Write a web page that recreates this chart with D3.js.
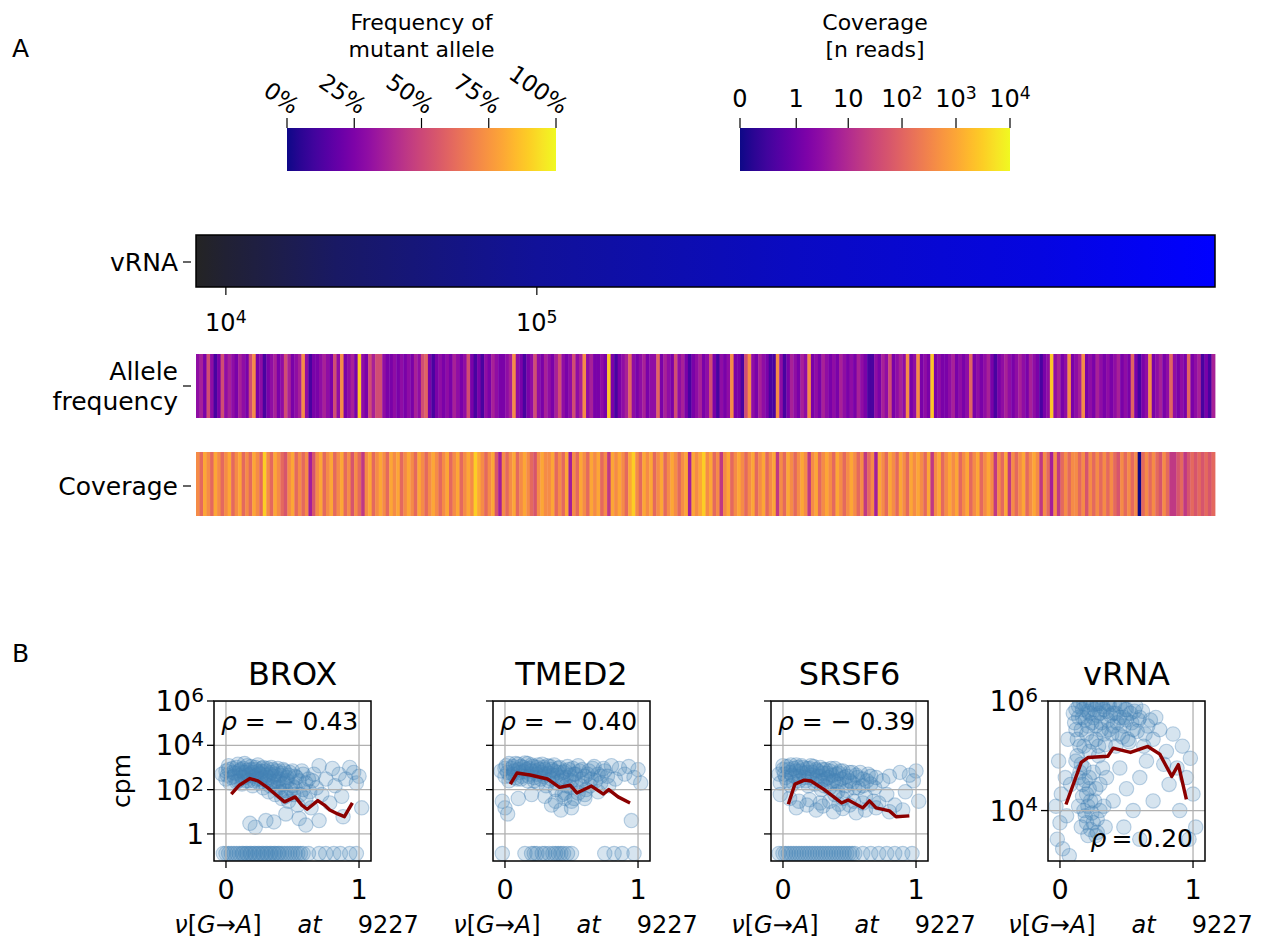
<!DOCTYPE html>
<html>
<head>
<meta charset="utf-8">
<script src="https://cdn.jsdelivr.net/npm/d3@7"></script>
<style>
  body { margin: 0; background: #fff; }
  svg { display: block; font-family: "DejaVu Sans", sans-serif; }
</style>
</head>
<body>
<svg id="fig" width="1261" height="945"></svg>
<script>
// ---------- data ----------
const freqTicks = [0, 0.25, 0.5, 0.75, 1];
const freqTickLabels = ["0%", "25%", "50%", "75%", "100%"];
const coverageTicks = [0, 1, 10, 100, 1000, 10000];
const coverageTickLabels = ["0", "1", "10", "10^2", "10^3", "10^4"];

const vrnaAnchorCell = [0, 8.5, 40, 97, 170, 240, 290];
const vrnaAnchorValue = [7000, 1e4, 3e4, 1e5, 2.5e5, 5e5, 1e6];
const vrnaTickCell = [8.5, 97];
const vrnaTickLabels = ["10^4", "10^5"];

// frequency of the mutant allele per cell (same order)
const alleleFreq = [
  0.30,0.37,0.24,0.52,0.30,0.12,0.24,0.52,0.30,0.37,
  0.30,0.24,0.37,0.30,0.24,0.52,0.72,0.24,0.30,0.12,
  0.24,0.30,0.37,0.24,0.30,0.52,0.37,0.24,0.30,0.37,
  0.72,0.30,0.12,0.24,0.24,0.30,0.37,0.30,0.24,0.52,
  0.30,0.72,0.24,0.30,0.37,0.24,0.88,0.30,0.24,0.52,
  0.37,0.52,0.52,0.30,0.24,0.24,0.30,0.24,0.30,0.24,
  0.30,0.24,0.37,0.30,0.52,0.60,0.24,0.12,0.24,0.30,
  0.24,0.30,0.24,0.37,0.30,0.24,0.30,0.52,0.24,0.12,
  0.24,0.12,0.30,0.24,0.37,0.30,0.24,0.24,0.30,0.37,
  0.72,0.30,0.24,0.12,0.24,0.30,0.52,0.30,0.24,0.37,
  0.30,0.24,0.37,0.52,0.30,0.24,0.30,0.52,0.30,0.37,
  0.72,0.30,0.37,0.24,0.24,0.30,0.24,0.88,0.24,0.12,
  0.24,0.30,0.37,0.60,0.30,0.24,0.30,0.37,0.24,0.30,
  0.30,0.60,0.24,0.37,0.30,0.24,0.52,0.30,0.37,0.24,
  0.12,0.24,0.30,0.37,0.24,0.30,0.52,0.24,0.12,0.30,
  0.24,0.30,0.72,0.24,0.24,0.12,0.52,0.72,0.30,0.24,
  0.37,0.30,0.24,0.12,0.12,0.72,0.30,0.12,0.24,0.37,
  0.30,0.24,0.37,0.30,0.72,0.24,0.30,0.24,0.37,0.30,
  0.24,0.30,0.24,0.37,0.30,0.24,0.30,0.24,0.37,0.30,
  0.24,0.12,0.12,0.30,0.24,0.37,0.30,0.52,0.24,0.30,
  0.37,0.30,0.72,0.24,0.30,0.72,0.24,0.30,0.24,0.88,
  0.24,0.30,0.24,0.24,0.30,0.37,0.24,0.30,0.24,0.30,
  0.60,0.24,0.30,0.24,0.30,0.37,0.24,0.12,0.24,0.30,
  0.37,0.30,0.24,0.30,0.37,0.30,0.24,0.37,0.30,0.24,
  0.12,0.24,0.30,0.88,0.30,0.37,0.24,0.30,0.72,0.24,
  0.30,0.37,0.72,0.24,0.30,0.24,0.37,0.30,0.24,0.30,
  0.24,0.30,0.37,0.24,0.30,0.24,0.60,0.24,0.12,0.24,
  0.30,0.72,0.24,0.30,0.37,0.24,0.30,0.60,0.30,0.24,
  0.30,0.24,0.60,0.24,0.30,0.37,0.12,0.24,0.12,0.37
];

// coverage at the site per cell, n reads
const coverageReads = [
  400,120,1000,400,120,1000,400,120,400,1000,
  120,400,1000,120,400,120,1000,400,120,3000,
  400,120,1000,400,120,55,400,1000,120,400,
  120,400,6,55,400,1000,120,400,1000,120,
  400,1000,120,400,55,400,120,18,400,1000,
  120,400,1000,400,120,1000,400,1000,120,400,
  1000,400,120,1000,400,120,400,1000,400,120,
  400,1000,120,400,1000,120,400,1000,400,3000,
  1000,400,120,400,1000,55,6,400,120,400,
  1000,120,400,1000,400,120,55,400,1000,400,
  400,1000,120,400,120,1000,6,400,120,1000,
  400,120,1000,400,1000,120,400,18,1000,400,
  1000,400,120,1000,3000,400,120,1000,400,1000,
  120,400,1000,120,400,1000,400,120,400,1000,
  6,1000,400,1000,3000,400,1000,120,400,18,
  400,1000,120,400,1000,400,120,400,1000,120,
  400,1000,120,400,1000,18,400,120,1000,400,
  120,400,1000,400,18,400,1000,120,400,1000,
  400,120,1000,400,120,400,1000,400,120,400,
  18,120,400,6,1000,400,120,1000,400,120,
  1000,400,120,1000,400,1000,400,120,1000,18,
  400,1000,120,400,1000,400,1000,120,400,1000,
  120,400,1000,120,400,1000,400,18,400,120,
  1000,18,400,120,400,1000,120,400,1000,400,
  18,400,120,6,400,18,120,400,120,400,
  400,120,400,55,400,120,400,120,400,120,
  400,120,55,400,120,400,120,400,0,120,
  400,120,400,120,55,400,120,18,18,55,
  120,18,55,120,55,120,55,120,55,120
];

// panel B: [nu, cpm]
const panelNames = ["BROX", "TMED2", "SRSF6", "vRNA"];
const panelRho = ["\u2212 0.43", "\u2212 0.40", "\u2212 0.39", "0.20"];

const broxPoints = [
  [-0.03,500],[0.0,300],[0.02,800],[0.03,200],[0.05,600],[0.06,400],[0.08,1000],[0.09,250],[0.1,700],[0.11,450],
  [0.12,180],[0.13,900],[0.14,350],[0.15,600],[0.16,1200],[0.17,250],[0.18,500],[0.19,800],[0.2,150],[0.21,400],
  [0.22,1000],[0.23,300],[0.24,650],[0.25,200],[0.26,500],[0.27,900],[0.28,120],[0.29,350],[0.3,700],[0.31,250],
  [0.32,80],[0.33,500],[0.34,1000],[0.35,180],[0.36,400],[0.37,60],[0.38,700],[0.39,250],[0.4,120],[0.41,450],
  [0.42,40],[0.43,800],[0.44,200],[0.45,90],[0.46,350],[0.47,30],[0.48,600],[0.5,150],[0.51,60],[0.52,400],
  [0.54,20],[0.55,250],[0.57,700],[0.58,100],[0.6,40],[0.62,300],[0.64,15],[0.66,500],[0.68,120],[0.7,1200],
  [0.72,60],[0.75,300],[0.78,25],[0.8,900],[0.82,150],[0.85,500],[0.87,50],[0.9,300],[0.93,1000],[0.96,600],
  [0.98,200],[1.0,400],[1.02,15],
  [0.0,700],[0.01,450],[0.02,1200],[0.04,350],[0.05,900],[0.07,550],[0.08,220],[0.09,1400],[0.11,800],[0.12,350],
  [0.13,600],[0.14,1500],[0.15,250],[0.16,750],[0.17,450],[0.19,1100],[0.2,600],[0.21,250],[0.22,800],[0.23,450],
  [0.24,1300],[0.25,550],[0.26,300],[0.27,650],[0.28,1000],[0.29,200],[0.3,450],[0.31,900],[0.32,350],[0.33,150],
  [0.34,600],[0.35,800],[0.36,220],[0.37,500],[0.38,120],[0.39,900],[0.4,300],[0.41,80],[0.42,550],[0.43,180],
  [0.44,700],[0.45,50],[0.46,250],[0.47,450],[0.49,100],[0.5,700],[0.52,120],[0.53,350],[0.56,60],[0.58,500],
  [0.6,200],[0.63,80],[0.65,250],
  [0.18,3],[0.22,2],[0.3,4],[0.36,3.5],[0.45,8],[0.55,5],[0.6,2.5],[0.7,4],[0.88,6],
  [-0.02,0],[0.02,0],[0.06,0],[0.1,0],[0.13,0],[0.16,0],[0.19,0],[0.22,0],[0.25,0],[0.28,0],
  [0.31,0],[0.34,0],[0.37,0],[0.4,0],[0.44,0],[0.48,0],[0.52,0],[0.56,0],[0.62,0],[0.7,0],
  [0.75,0],[0.81,0],[0.86,0],[0.93,0],[0.98,0],
  [0.0,0],[0.04,0],[0.08,0],[0.12,0],[0.15,0],[0.18,0],[0.21,0],[0.24,0],[0.27,0],[0.3,0],
  [0.33,0],[0.36,0],[0.39,0],[0.42,0],[0.46,0],[0.5,0],[0.54,0],[0.58,0]
];
const tmed2Points = [
  [-0.03,700],[0.0,400],[0.01,1200],[0.03,250],[0.05,900],[0.06,500],[0.08,1500],[0.09,300],[0.1,800],[0.12,1100],
  [0.13,400],[0.14,650],[0.15,1600],[0.17,250],[0.18,900],[0.19,500],[0.2,1300],[0.22,350],[0.23,700],[0.24,1000],
  [0.25,200],[0.27,600],[0.28,1400],[0.29,400],[0.3,800],[0.31,150],[0.33,550],[0.34,1100],[0.35,300],[0.37,700],
  [0.38,100],[0.39,450],[0.4,900],[0.42,250],[0.43,60],[0.44,600],[0.45,40],[0.46,350],[0.48,800],[0.49,130],
  [0.5,30],[0.52,500],[0.53,200],[0.55,70],[0.56,700],[0.58,300],[0.6,40],[0.62,500],[0.64,150],[0.66,900],
  [0.68,250],[0.7,80],[0.72,400],[0.75,700],[0.78,150],[0.8,1200],[0.83,300],[0.86,900],[0.9,500],[0.93,1100],
  [0.97,350],[1.0,800],[1.02,200],
  [0.0,900],[0.02,600],[0.03,1500],[0.04,400],[0.06,1100],[0.07,700],[0.08,350],[0.1,1400],[0.11,600],[0.12,300],
  [0.14,1000],[0.16,800],[0.17,1500],[0.18,400],[0.2,700],[0.21,1100],[0.22,250],[0.24,500],[0.25,1300],[0.26,800],
  [0.27,300],[0.29,1000],[0.3,500],[0.32,1200],[0.33,250],[0.35,800],[0.36,450],[0.37,1300],[0.39,200],[0.4,600],
  [0.41,1000],[0.43,350],[0.45,700],[0.46,150],[0.47,1100],[0.49,450],[0.5,250],[0.51,900],[0.53,500],[0.55,1200],
  [0.57,150],[0.58,800],[0.6,400],[0.61,100],[0.63,700],[0.65,300],[0.67,1100],[0.7,500],[0.72,200],[0.74,900],
  [0.77,400],
  [-0.02,30],[0.0,15],[0.02,8],[0.35,20],[0.42,12],[0.5,15],[0.95,4],
  [0.3,50],[0.38,30],[0.45,70],[0.52,40],[0.6,60],[0.1,40],[0.2,60],
  [-0.02,0],[0.15,0],[0.2,0],[0.24,0],[0.28,0],[0.33,0],[0.36,0],[0.4,0],[0.44,0],[0.5,0],
  [0.75,0],[0.82,0],[0.88,0],[0.97,0],[0.22,0],[0.3,0],[0.38,0],[0.42,0],[0.47,0]
];
const srsf6Points = [
  [-0.03,500],[-0.02,200],[0.0,800],[0.02,350],[0.03,1100],[0.05,600],[0.06,150],[0.08,900],[0.09,400],[0.1,1300],
  [0.12,250],[0.13,700],[0.15,1000],[0.16,350],[0.18,600],[0.19,150],[0.2,900],[0.22,450],[0.23,1100],[0.25,250],
  [0.26,700],[0.28,400],[0.29,100],[0.3,800],[0.32,300],[0.33,550],[0.35,120],[0.36,900],[0.38,250],[0.39,60],
  [0.4,500],[0.42,180],[0.43,700],[0.45,40],[0.46,350],[0.48,90],[0.5,600],[0.52,200],[0.53,30],[0.55,450],
  [0.57,120],[0.6,300],[0.62,50],[0.64,500],[0.66,180],[0.7,350],[0.72,25],[0.75,250],[0.78,60],[0.8,400],
  [0.84,20],[0.88,600],[0.92,80],[0.95,450],[0.98,250],[1.0,700],[1.02,30],
  [0.0,1200],[0.01,500],[0.03,250],[0.04,800],[0.06,1300],[0.07,450],[0.08,200],[0.1,700],[0.11,1000],[0.12,400],
  [0.14,1200],[0.15,550],[0.17,250],[0.18,900],[0.2,350],[0.21,1200],[0.22,600],[0.24,180],[0.25,800],[0.26,400],
  [0.28,1000],[0.29,250],[0.3,550],[0.31,150],[0.32,800],[0.34,350],[0.35,700],[0.36,200],[0.37,450],[0.39,900],
  [0.4,250],[0.41,80],[0.42,550],[0.44,300],[0.45,700],[0.47,150],[0.48,400],[0.5,250],[0.52,600],[0.54,120],
  [0.56,350],[0.58,600],[0.6,150],[0.63,250],[0.66,400],[0.69,120],
  [-0.02,60],[0.05,40],[0.1,15],[0.18,20],[0.25,12],[0.3,18],[0.38,10],[0.45,14],[0.55,9],[0.62,12],
  [0.7,15],[0.8,10],[0.9,12],
  [0.12,30],[0.2,35],[0.28,25],[0.35,30],[0.42,22],[0.5,20],[0.6,25],[0.68,30],
  [-0.03,0],[0.0,0],[0.04,0],[0.1,0],[0.14,0],[0.18,0],[0.22,0],[0.26,0],[0.3,0],[0.34,0],
  [0.38,0],[0.42,0],[0.46,0],[0.5,0],[0.54,0],[0.6,0],[0.66,0],[0.72,0],[0.78,0],[0.84,0],
  [0.9,0],[0.97,0],
  [0.02,0],[0.06,0],[0.08,0],[0.12,0],[0.16,0],[0.2,0],[0.24,0],[0.28,0],[0.32,0],[0.36,0],
  [0.4,0],[0.44,0],[0.48,0],[0.52,0]
];
const vrnaPoints = [
  [0.1,600000],[0.12,300000],[0.14,800000],[0.15,150000],[0.17,500000],[0.18,900000],[0.2,250000],[0.21,650000],
  [0.22,120000],[0.24,400000],[0.25,850000],[0.27,200000],[0.28,550000],[0.3,900000],[0.31,300000],[0.33,700000],
  [0.34,160000],[0.36,450000],[0.37,850000],[0.39,250000],[0.4,600000],[0.42,150000],[0.43,400000],[0.45,800000],
  [0.47,220000],[0.48,500000],[0.5,700000],[0.52,180000],[0.54,400000],[0.56,650000],[0.58,280000],[0.6,500000],
  [0.63,150000],[0.66,350000],[0.7,200000],
  [0.11,400000],[0.12,700000],[0.13,200000],[0.14,500000],[0.15,950000],[0.16,300000],[0.17,700000],[0.18,150000],
  [0.19,450000],[0.2,850000],[0.21,350000],[0.22,600000],[0.23,950000],[0.24,180000],[0.25,500000],[0.26,700000],
  [0.27,350000],[0.28,900000],[0.29,150000],[0.3,600000],[0.31,400000],[0.32,800000],[0.33,250000],[0.35,650000],
  [0.36,900000],[0.37,300000],[0.38,550000],[0.4,350000],[0.41,850000],[0.42,600000],[0.44,250000],[0.45,500000],
  [0.46,900000],[0.48,350000],[0.49,700000],[0.5,450000],[0.51,200000],[0.53,600000],[0.55,300000],[0.57,800000],
  [0.59,450000],[0.62,650000],[0.64,250000],[0.68,450000],
  [0.12,80000],[0.15,50000],[0.17,30000],[0.18,60000],[0.2,20000],[0.22,40000],[0.14,12000],[0.19,8000],
  [0.23,15000],[0.16,5000],[0.21,3500],[0.25,6000],[0.27,25000],[0.3,10000],[0.28,4000],
  [0.13,100000],[0.14,40000],[0.16,70000],[0.17,18000],[0.18,10000],[0.19,35000],[0.2,6000],[0.21,12000],
  [0.22,25000],[0.23,4500],[0.24,9000],[0.25,50000],[0.26,15000],[0.27,3500],[0.28,7000],[0.29,100000],
  [0.3,30000],[0.32,60000],[0.33,12000],[0.34,5000],
  [0.75,300000],[0.8,120000],[0.85,250000],[0.88,60000],[0.92,150000],[0.95,40000],[0.98,90000],[1.0,20000],
  [1.02,5000],[0.97,3000],[0.9,10000],[0.82,30000],[0.78,70000],[0.72,500000],
  [-0.03,12000],[-0.02,3000],[0.0,6000],[0.01,20000],[0.02,2000],[0.04,40000],[0.05,8000],[0.06,200000],
  [0.07,1500],[0.08,30000],[-0.01,80000],
  [0.35,40000],[0.4,15000],[0.45,60000],[0.5,25000],[0.55,10000],[0.6,40000],[0.65,80000],[0.7,15000],
  [0.48,5000],[0.6,3000]
];

// running mean (red line), [nu, cpm]
const broxTrend = [[0.04,63],[0.1,158],[0.18,316],[0.24,251],[0.31,126],[0.38,56],[0.44,28],[0.52,47],
  [0.57,20],[0.61,13],[0.69,32],[0.74,20],[0.78,12],[0.84,8],[0.89,6],[0.95,25]];
const tmed2Trend = [[0.04,178],[0.09,560],[0.19,457],[0.32,302],[0.41,126],[0.49,158],[0.54,71],[0.65,145],
  [0.74,63],[0.78,100],[0.85,47],[0.94,25]];
const srsf6Trend = [[0.04,22],[0.09,178],[0.16,269],[0.21,245],[0.31,100],[0.44,25],[0.49,34],[0.6,15],
  [0.65,31],[0.7,15],[0.8,11],[0.85,6],[0.95,6.5]];
const vrnaTrend = [[0.045,12900],[0.16,76000],[0.21,93000],[0.36,98000],[0.4,138000],[0.53,115000],
  [0.66,148000],[0.75,107000],[0.84,42000],[0.89,69000],[0.95,16000]];

const panelPoints = [broxPoints, tmed2Points, srsf6Points, vrnaPoints];
const panelTrend = [broxTrend, tmed2Trend, srsf6Trend, vrnaTrend];

// ---------- drawing ----------
const svg = d3.select("#fig");
const defs = svg.append("defs");

function sciText(sel, label) {
  const m = /^10\^(\d+)$/.exec(label);
  if (m) {
    sel.append("tspan").text("10");
    sel.append("tspan").attr("dy", "-0.45em").attr("font-size", "0.72em").text(m[1]);
  } else {
    sel.text(label);
  }
}

svg.append("text").attr("x", 12).attr("y", 57).attr("font-size", 25).text("A");
svg.append("text").attr("x", 12).attr("y", 662).attr("font-size", 25).text("B");

// plasma gradient for colour bars
const plasmaGrad = defs.append("linearGradient").attr("id", "plasma");
d3.range(0, 1.0001, 0.05).forEach(t => {
  plasmaGrad.append("stop").attr("offset", t).attr("stop-color", d3.interpolatePlasma(t));
});

// frequency colour bar
const freqX = d3.scaleLinear().domain([0, 1]).range([287, 556]);
svg.append("rect").attr("x", 287).attr("y", 128).attr("width", 269).attr("height", 43)
  .attr("fill", "url(#plasma)");
const fTitle = svg.append("text").attr("text-anchor", "middle").attr("font-size", 22);
fTitle.append("tspan").attr("x", freqX(0.5)).attr("y", 30).text("Frequency of");
fTitle.append("tspan").attr("x", freqX(0.5)).attr("y", 57).text("mutant allele");
freqTicks.forEach((t, i) => {
  svg.append("line").attr("x1", freqX(t)).attr("x2", freqX(t)).attr("y1", 118).attr("y2", 128)
    .attr("stroke", "#000").attr("stroke-width", 1.2);
  svg.append("text").attr("text-anchor", "end").attr("font-size", 23)
    .attr("transform", `translate(${freqX(t) + 5},${115}) rotate(35)`)
    .text(freqTickLabels[i]);
});

// coverage colour bar
const covPos = d3.scaleLog().domain([0.1, 10000.1]).range([0, 1]);
const covX = d3.scaleLinear().domain([0, 1]).range([740, 1010]);
svg.append("rect").attr("x", 740).attr("y", 128).attr("width", 270).attr("height", 43)
  .attr("fill", "url(#plasma)");
const cTitle = svg.append("text").attr("text-anchor", "middle").attr("font-size", 22);
cTitle.append("tspan").attr("x", covX(0.5)).attr("y", 30).text("Coverage");
cTitle.append("tspan").attr("x", covX(0.5)).attr("y", 57).text("[n reads]");
coverageTicks.forEach((t, i) => {
  const x = covX(covPos(t + 0.1));
  svg.append("line").attr("x1", x).attr("x2", x).attr("y1", 118).attr("y2", 128)
    .attr("stroke", "#000").attr("stroke-width", 1.2);
  svg.append("text").attr("x", x).attr("y", 107).attr("text-anchor", "middle").attr("font-size", 24)
    .call(sciText, coverageTickLabels[i]);
});

// cells axis shared by the three strips
const nCells = alleleFreq.length;
const cellX = d3.scaleLinear().domain([0, nCells]).range([196, 1215]);

// vRNA bar
const vrnaColor = d3.scaleLog().domain([7000, 1e6]).range(["#242424", "#0000ff"]).clamp(true);
const vGrad = defs.append("linearGradient").attr("id", "vrnaGrad");
vrnaAnchorCell.forEach((c, i) => {
  vGrad.append("stop").attr("offset", c / nCells).attr("stop-color", vrnaColor(vrnaAnchorValue[i]));
});
svg.append("rect").attr("x", cellX(0)).attr("y", 235).attr("width", cellX(nCells) - cellX(0))
  .attr("height", 52).attr("fill", "url(#vrnaGrad)").attr("stroke", "#000").attr("stroke-width", 1.5);
vrnaTickCell.forEach((c, i) => {
  svg.append("line").attr("x1", cellX(c)).attr("x2", cellX(c)).attr("y1", 287).attr("y2", 295)
    .attr("stroke", "#000").attr("stroke-width", 1.2);
  svg.append("text").attr("x", cellX(c)).attr("y", 331).attr("text-anchor", "middle").attr("font-size", 24)
    .call(sciText, vrnaTickLabels[i]);
});

// allele frequency strip
const freqColor = d3.scaleSequential(d3.interpolatePlasma).domain([0, 1]);
svg.append("g").selectAll("rect").data(alleleFreq).join("rect")
  .attr("x", (d, i) => cellX(i)).attr("width", (d, i) => cellX(i + 1) - cellX(i) + 0.4)
  .attr("y", 354).attr("height", 64).attr("fill", d => freqColor(d));

// coverage strip
svg.append("g").selectAll("rect").data(coverageReads).join("rect")
  .attr("x", (d, i) => cellX(i)).attr("width", (d, i) => cellX(i + 1) - cellX(i) + 0.4)
  .attr("y", 452).attr("height", 64).attr("fill", d => d3.interpolatePlasma(covPos(d + 0.1)));

// row labels (one text per line)
function rowLabel(lines, yTick) {
  svg.append("line").attr("x1", 183).attr("x2", 191).attr("y1", yTick).attr("y2", yTick)
    .attr("stroke", "#000").attr("stroke-width", 1.2);
  const y0 = yTick + 9 - (lines.length - 1) * 15;
  lines.forEach((l, i) => svg.append("text").attr("text-anchor", "end").attr("font-size", 25)
    .attr("x", 178).attr("y", y0 + i * 30).text(l));
}
rowLabel(["vRNA"], 262);
rowLabel(["Allele", "frequency"], 386);
rowLabel(["Coverage"], 486);

// ---------- panel B ----------
const panelLeft = [214, 493, 771, 1048];
const boxW = 157, boxTop = 701, boxBottom = 861;
const zeroCpm = 0.13;

panelNames.forEach((name, p) => {
  const isVrna = name === "vRNA";
  const x0 = panelLeft[p];
  const g = svg.append("g");
  const x = d3.scaleLinear().domain([-0.09, 1.09]).range([x0, x0 + boxW]);
  const y = d3.scaleLog().domain(isVrna ? [1200, 1e6] : [0.06, 1e6]).range([boxBottom, boxTop]);
  const yTicks = isVrna ? [1e4, 1e6] : [1, 100, 1e4, 1e6];
  const yLabels = isVrna ? ["10^4", "10^6"] : ["1", "10^2", "10^4", "10^6"];

  const clipId = "clip" + p;
  defs.append("clipPath").attr("id", clipId).append("rect")
    .attr("x", x0).attr("y", boxTop).attr("width", boxW).attr("height", boxBottom - boxTop);

  const inner = g.append("g").attr("clip-path", `url(#${clipId})`);
  inner.selectAll("circle").data(panelPoints[p]).join("circle")
    .attr("cx", d => x(d[0])).attr("cy", d => y(d[1] > 0 ? d[1] : zeroCpm)).attr("r", 7.2)
    .attr("fill", "steelblue").attr("fill-opacity", 0.22)
    .attr("stroke", "steelblue").attr("stroke-opacity", 0.35).attr("stroke-width", 1.1);

  // grid
  [0, 1].forEach(v => inner.append("line").attr("x1", x(v)).attr("x2", x(v))
    .attr("y1", boxTop).attr("y2", boxBottom).attr("stroke", "#b0b0b0").attr("stroke-width", 1.3));
  yTicks.forEach(v => inner.append("line").attr("x1", x0).attr("x2", x0 + boxW)
    .attr("y1", y(v)).attr("y2", y(v)).attr("stroke", "#b0b0b0").attr("stroke-width", 1.3));

  inner.append("path").datum(panelTrend[p])
    .attr("d", d3.line().x(d => x(d[0])).y(d => y(d[1])))
    .attr("fill", "none").attr("stroke", "#8b0000").attr("stroke-width", 3.4)
    .attr("stroke-linejoin", "round");

  g.append("rect").attr("x", x0).attr("y", boxTop).attr("width", boxW).attr("height", boxBottom - boxTop)
    .attr("fill", "none").attr("stroke", "#000").attr("stroke-width", 1.5);

  // ticks
  yTicks.forEach((v, i) => {
    g.append("line").attr("x1", x0 - 7).attr("x2", x0).attr("y1", y(v)).attr("y2", y(v))
      .attr("stroke", "#000").attr("stroke-width", 1.3);
    if (p === 0 || isVrna) {
      g.append("text").attr("x", x0 - 10).attr("y", y(v) + 10).attr("text-anchor", "end")
        .attr("font-size", 28).call(sciText, yLabels[i]);
    }
  });
  [0, 1].forEach(v => {
    g.append("line").attr("x1", x(v)).attr("x2", x(v)).attr("y1", boxBottom).attr("y2", boxBottom + 7)
      .attr("stroke", "#000").attr("stroke-width", 1.3);
    g.append("text").attr("x", x(v)).attr("y", boxBottom + 38).attr("text-anchor", "middle")
      .attr("font-size", 27).text(v);
  });

  g.append("text").attr("x", x0 + boxW / 2).attr("y", boxTop - 16).attr("text-anchor", "middle")
    .attr("font-size", 32).text(name);

  // correlation
  const rho = g.append("text").attr("font-size", 25);
  if (isVrna) {
    rho.attr("x", x(1)).attr("y", boxBottom - 14).attr("text-anchor", "end");
  } else {
    rho.attr("x", x0 + 7).attr("y", boxTop + 29);
  }
  rho.append("tspan").attr("font-style", "italic").text("\u03c1");
  rho.append("tspan").text(isVrna ? "\u2009=\u20090.20" : " = " + panelRho[p]);

  // x label
  const xl = g.append("text").attr("x", x0 + boxW / 2 + 4).attr("y", 933).attr("text-anchor", "middle")
    .attr("font-size", 24);
  xl.append("tspan").attr("font-style", "italic").text("\u03bd");
  xl.append("tspan").text("[");
  xl.append("tspan").attr("font-style", "italic").text("G");
  xl.append("tspan").text("\u2192");
  xl.append("tspan").attr("font-style", "italic").text("A");
  xl.append("tspan").text("]\u2003\u2002");
  xl.append("tspan").attr("font-style", "italic").text("at");
  xl.append("tspan").text("\u2003\u20029227");
});

svg.append("text").attr("transform", "translate(130,781) rotate(-90)").attr("text-anchor", "middle")
  .attr("font-size", 25).text("cpm");
</script>
</body>
</html>
